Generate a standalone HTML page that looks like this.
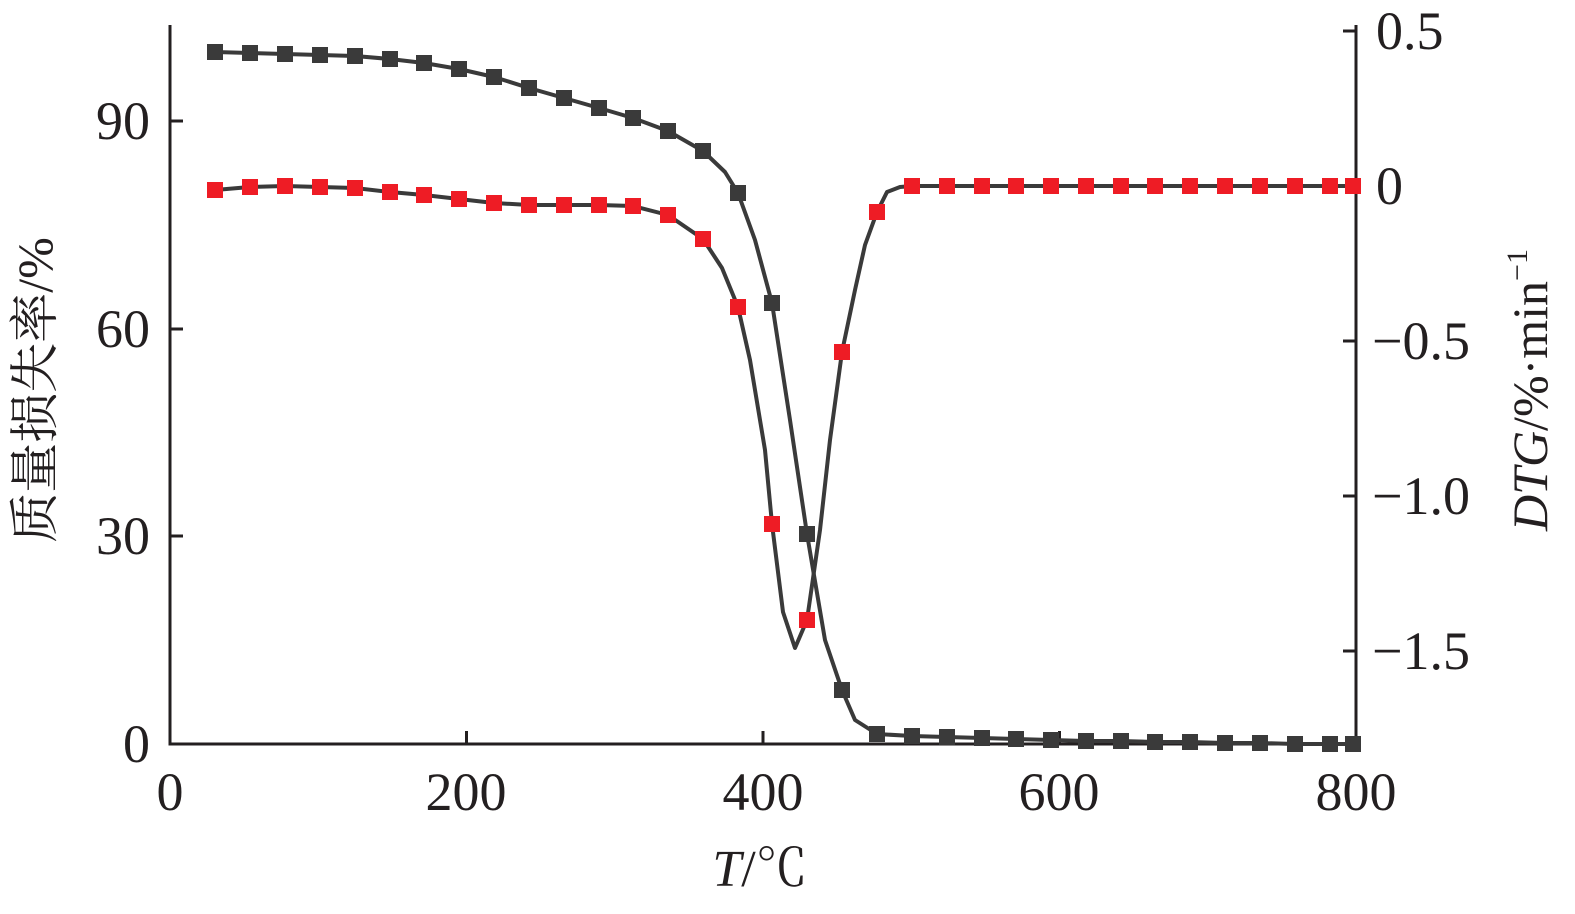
<!DOCTYPE html>
<html><head><meta charset="utf-8"><style>
html,body{margin:0;padding:0;background:#fff;}
svg text{font-family:"Liberation Serif","Noto Serif CJK SC",serif;fill:#231f20;}
</style></head><body>
<svg width="1575" height="909" viewBox="0 0 1575 909" xmlns="http://www.w3.org/2000/svg">
<g stroke="#231f20" stroke-width="3" fill="none">
<polyline points="170,25 170,744 1356,744 1356,25"/>
<line x1="170" y1="536" x2="183" y2="536"/><line x1="170" y1="329" x2="183" y2="329"/><line x1="170" y1="121" x2="183" y2="121"/>
<line x1="466.5" y1="744" x2="466.5" y2="731"/><line x1="763" y1="744" x2="763" y2="731"/><line x1="1059.5" y1="744" x2="1059.5" y2="731"/>
<line x1="1356" y1="31" x2="1343" y2="31"/><line x1="1356" y1="186" x2="1343" y2="186"/><line x1="1356" y1="341" x2="1343" y2="341"/><line x1="1356" y1="496" x2="1343" y2="496"/><line x1="1356" y1="651" x2="1343" y2="651"/>
</g>
<g stroke="#3a3a3a" stroke-width="4" fill="none" stroke-linejoin="round">
<polyline points="215,52 250,53 285,54 320,55 355,56 390,59 424,63 459,69 494,77 529,88 564,98 599,108 633,118 668,131 703,151 725,172 738,193 755,240 772,303 790,420 807,534 825,640 842,690 855,720 877,734 912,736 947,737 982,738 1016,739 1051,740 1086,741 1121,741 1155,742 1190,742 1225,743 1260,743 1295,744 1330,744 1355,744"/>
<polyline points="215,190 250,187 285,186 320,187 355,188 390,192 424,195 459,199 494,203 529,205 564,205 599,205 633,206 668,215 703,239 722,268 738,307 750,360 765,450 772,524 783,612 795,648 807,620 820,530 830,440 842,352 855,290 865,245 877,212 887,192 900,187 912,186 1356,186"/>
</g>
<g fill="#3a3a3a">
<rect x="207" y="44" width="16" height="16"/><rect x="242" y="45" width="16" height="16"/><rect x="277" y="46" width="16" height="16"/><rect x="312" y="47" width="16" height="16"/><rect x="347" y="48" width="16" height="16"/><rect x="382" y="51" width="16" height="16"/><rect x="416" y="55" width="16" height="16"/><rect x="451" y="61" width="16" height="16"/><rect x="486" y="69" width="16" height="16"/><rect x="521" y="80" width="16" height="16"/><rect x="556" y="90" width="16" height="16"/><rect x="591" y="100" width="16" height="16"/><rect x="625" y="110" width="16" height="16"/><rect x="660" y="123" width="16" height="16"/><rect x="695" y="143" width="16" height="16"/><rect x="730" y="185" width="16" height="16"/><rect x="764" y="295" width="16" height="16"/><rect x="799" y="526" width="16" height="16"/><rect x="834" y="682" width="16" height="16"/><rect x="869" y="726" width="16" height="16"/><rect x="904" y="728" width="16" height="16"/><rect x="939" y="729" width="16" height="16"/><rect x="974" y="730" width="16" height="16"/><rect x="1008" y="731" width="16" height="16"/><rect x="1043" y="732" width="16" height="16"/><rect x="1078" y="733" width="16" height="16"/><rect x="1113" y="733" width="16" height="16"/><rect x="1147" y="734" width="16" height="16"/><rect x="1182" y="734" width="16" height="16"/><rect x="1217" y="735" width="16" height="16"/><rect x="1252" y="735" width="16" height="16"/><rect x="1287" y="736" width="16" height="16"/><rect x="1322" y="736" width="16" height="16"/><rect x="1345" y="736" width="16" height="16"/>
</g>
<g fill="#ee1c25">
<rect x="207" y="182" width="16" height="16"/><rect x="242" y="179" width="16" height="16"/><rect x="277" y="178" width="16" height="16"/><rect x="312" y="179" width="16" height="16"/><rect x="347" y="180" width="16" height="16"/><rect x="382" y="184" width="16" height="16"/><rect x="416" y="187" width="16" height="16"/><rect x="451" y="191" width="16" height="16"/><rect x="486" y="195" width="16" height="16"/><rect x="521" y="197" width="16" height="16"/><rect x="556" y="197" width="16" height="16"/><rect x="591" y="197" width="16" height="16"/><rect x="625" y="198" width="16" height="16"/><rect x="660" y="207" width="16" height="16"/><rect x="695" y="231" width="16" height="16"/><rect x="730" y="299" width="16" height="16"/><rect x="764" y="516" width="16" height="16"/><rect x="799" y="612" width="16" height="16"/><rect x="834" y="344" width="16" height="16"/><rect x="869" y="204" width="16" height="16"/><rect x="904" y="178" width="16" height="16"/><rect x="939" y="178" width="16" height="16"/><rect x="974" y="178" width="16" height="16"/><rect x="1008" y="178" width="16" height="16"/><rect x="1043" y="178" width="16" height="16"/><rect x="1078" y="178" width="16" height="16"/><rect x="1113" y="178" width="16" height="16"/><rect x="1147" y="178" width="16" height="16"/><rect x="1182" y="178" width="16" height="16"/><rect x="1217" y="178" width="16" height="16"/><rect x="1252" y="178" width="16" height="16"/><rect x="1287" y="178" width="16" height="16"/><rect x="1322" y="178" width="16" height="16"/><rect x="1345" y="178" width="16" height="16"/>
</g>
<g font-size="54">
<text x="150" y="762" text-anchor="end">0</text>
<text x="150" y="554" text-anchor="end">30</text>
<text x="150" y="347" text-anchor="end">60</text>
<text x="150" y="139" text-anchor="end">90</text>
<text x="170" y="810" text-anchor="middle">0</text>
<text x="466" y="810" text-anchor="middle">200</text>
<text x="763" y="810" text-anchor="middle">400</text>
<text x="1059" y="810" text-anchor="middle">600</text>
<text x="1356" y="810" text-anchor="middle">800</text>
<text x="1376" y="49">0.5</text>
<text x="1376" y="204">0</text>
<text x="1372" y="359">−0.5</text>
<text x="1372" y="514">−1.0</text>
<text x="1372" y="669">−1.5</text>
<text x="760" y="886" text-anchor="middle" font-size="52"><tspan font-style="italic">T</tspan>/℃</text>
<text transform="translate(52,390) rotate(-90)" text-anchor="middle" font-size="50">质量损失率/%</text>
<text transform="translate(1547,390) rotate(-90)" text-anchor="middle" font-size="50"><tspan font-style="italic">DTG</tspan>/%·min<tspan font-size="30" dy="-20">−1</tspan></text>
</g>
</svg>
</body></html>
